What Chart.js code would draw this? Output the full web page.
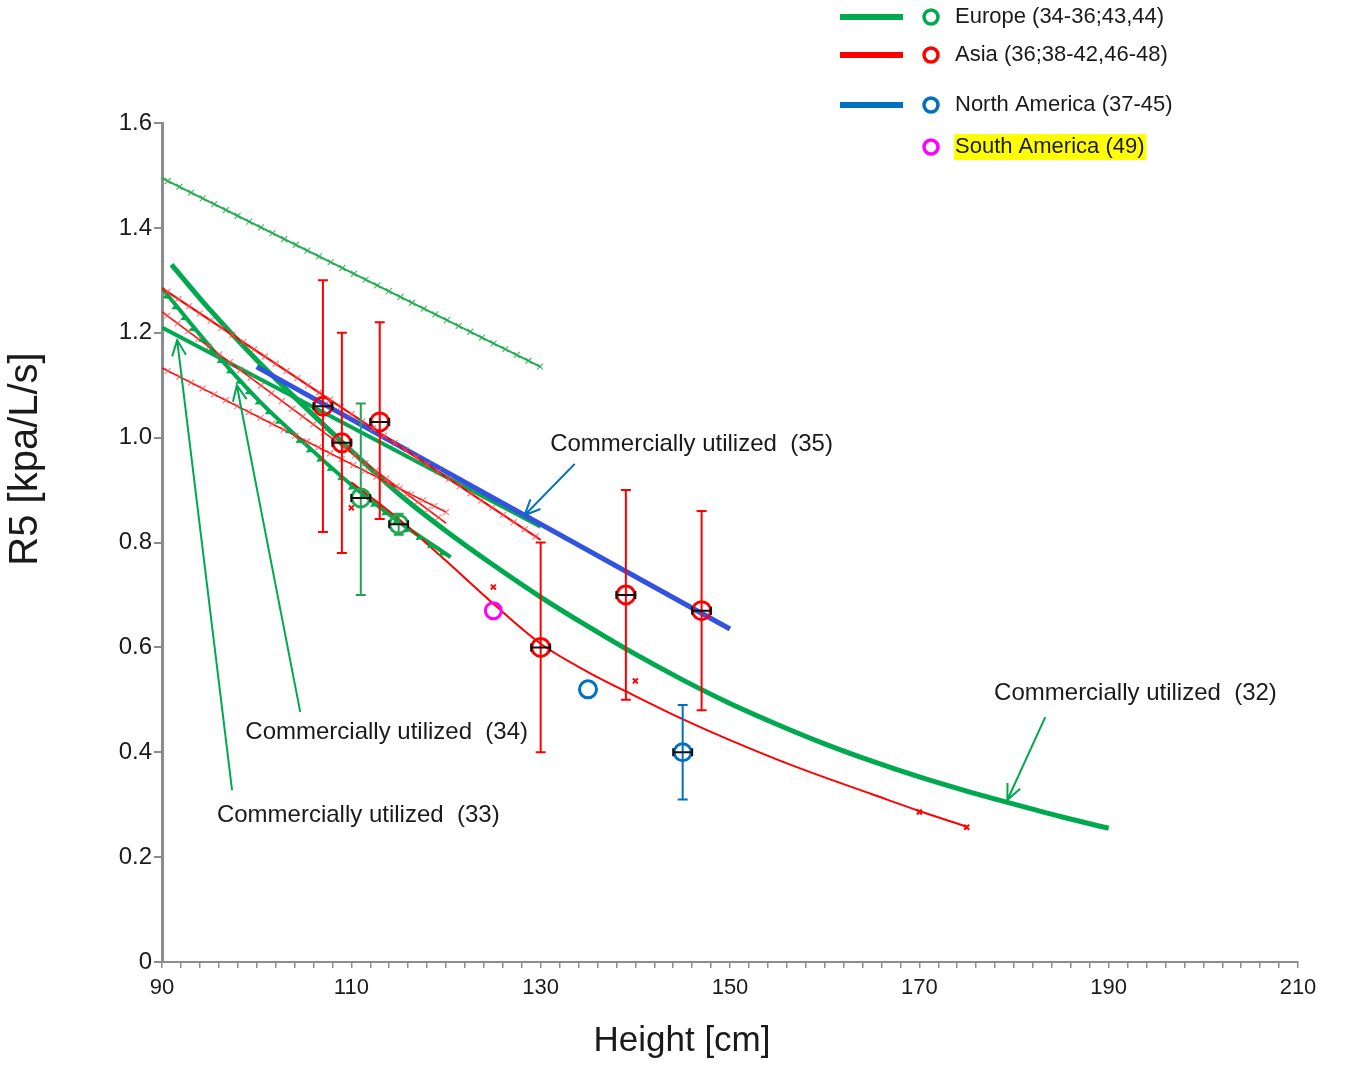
<!DOCTYPE html>
<html>
<head>
<meta charset="utf-8">
<script src="https://cdn.jsdelivr.net/npm/chart.js@4.4.0/dist/chart.umd.min.js"></script>
<style>
  html, body { margin: 0; padding: 0; background: #fff; }
</style>
</head>
<body>
<canvas id="myChart" width="1346" height="1066"></canvas>
<script>
// ---- reference lines (height cm -> R5 kPa/L/s) ----
const topGreenX = [90, 130];
const topGreenY = [1.495, 1.135];

const curve32X = [91, 95, 100, 105, 110, 115, 120, 125, 130, 135, 140, 145, 150, 155, 160, 165, 170, 175, 180, 185, 190];
const curve32Y = [1.33, 1.245, 1.148, 1.06, 0.975, 0.893, 0.822, 0.757, 0.696, 0.64, 0.587, 0.538, 0.493, 0.453, 0.416, 0.383, 0.353, 0.326, 0.301, 0.277, 0.255];

const line33X = [90, 130];
const line33Y = [1.21, 0.83];

const curve34X = [90, 95, 100, 105, 110, 115, 120.5];
const curve34Y = [1.285, 1.175, 1.075, 0.99, 0.91, 0.84, 0.772];

const naLineX = [100, 150];
const naLineY = [1.135, 0.635];

const asiaLineAX = [90, 130];
const asiaLineAY = [1.285, 0.805];
const asiaLineBX = [90, 120];
const asiaLineBY = [1.24, 0.837];
const asiaLineCX = [90, 120];
const asiaLineCY = [1.133, 0.858];

const asiaCurveX = [110, 115, 120, 125, 130, 135, 140, 145, 150, 155, 160, 165, 170, 175];
const asiaCurveY = [0.915, 0.845, 0.765, 0.683, 0.607, 0.553, 0.507, 0.463, 0.423, 0.386, 0.352, 0.32, 0.288, 0.258];

// ---- study means with error bars ----
const asiaPtX = [107, 109, 113, 130, 139, 147];
const asiaPtY = [1.06, 0.99, 1.03, 0.60, 0.70, 0.67];
const asiaLo  = [0.82, 0.78, 0.845, 0.40, 0.50, 0.48];
const asiaHi  = [1.30, 1.20, 1.22, 0.80, 0.90, 0.86];

const euPtX = [111, 115];
const euPtY = [0.885, 0.835];
const euLo  = [0.70, 0.815];
const euHi  = [1.065, 0.855];

const naPtX = [135, 145];
const naPtY = [0.52, 0.40];
const naLo  = [null, 0.31];
const naHi  = [null, 0.49];

const saPtX = [125];
const saPtY = [0.67];

const asiaCrossX = [110, 125, 140, 170, 175];
const asiaCrossY = [0.866, 0.715, 0.536, 0.286, 0.257];

const heightErr = 1; // +/- cm, black horizontal bars

// ---- annotations ----
const noteText  = ['Commercially utilized  (35)', 'Commercially utilized  (34)', 'Commercially utilized  (33)', 'Commercially utilized  (32)'];
const noteX     = [131, 98.8, 95.8, 177.9];
const noteY     = [0.988, 0.437, 0.280, 0.513];
const arrowFromX = [133.6, 104.6, 97.4, 183.3];
const arrowFromY = [0.950, 0.477, 0.328, 0.467];
const arrowToX   = [128.3, 97.9, 91.6, 179.3];
const arrowToY   = [0.852, 1.100, 1.186, 0.309];

const legendLabels = ['Europe (34-36;43,44)', 'Asia (36;38-42,46-48)', 'North America (37-45)', 'South America (49)'];

const RED = '#ff0000';
const GREEN = '#00a94f';
const GREEN_THIN = '#22ad55';
const BLUE_LINE = '#3352e0';
const BLUE = '#0070c0';
const MAGENTA = '#ff00ff';
const AXIS = '#8c8c8c';
const TEXT = '#1a1a1a';
const FONT = 'Arial, "Liberation Sans", sans-serif';

const arrowColors = [BLUE, GREEN, GREEN, GREEN];
const legendLine = [GREEN, RED, BLUE, null];
const legendDot = [GREEN, RED, BLUE, MAGENTA];

function pts(xs, ys) {
    return xs.map((x, i) => ({ x: x, y: ys[i] }));
}

function ring(xs, ys, color, r) {
    return {
        data: pts(xs, ys), showLine: false, pointStyle: 'circle',
        pointRadius: r, pointBorderWidth: 3, borderColor: color,
        pointBorderColor: color, pointBackgroundColor: 'rgba(0,0,0,0)'
    };
}

function line(xs, ys, color, width, extra) {
    return Object.assign({
        type: 'line',
        data: pts(xs, ys), pointRadius: 0, fill: false,
        borderColor: color, borderWidth: width, backgroundColor: color
    }, extra || {});
}

const smooth = { cubicInterpolationMode: 'monotone', tension: 0.4 };

const errorBars = [
    { x: asiaPtX, y: asiaPtY, lo: asiaLo, hi: asiaHi, color: RED },
    { x: euPtX, y: euPtY, lo: euLo, hi: euHi, color: '#22a455' },
    { x: naPtX, y: naPtY, lo: naLo, hi: naHi, color: BLUE }
];

const extrasPlugin = {
    id: 'extras',
    afterDatasetsDraw(chart) {
        const ctx = chart.ctx;
        const xs = chart.scales.x, ys = chart.scales.y;
        ctx.save();
        // little markers along some lines
        chart.data.datasets.forEach((ds, i) => {
            if (!ds.marks) return;
            const p = chart.getDatasetMeta(i).data.map(e => [e.x, e.y]);
            const step = ds.markStep || 13;
            let carry = step / 2;
            for (let k = 0; k < p.length - 1; k++) {
                const dx = p[k + 1][0] - p[k][0], dy = p[k + 1][1] - p[k][1];
                const len = Math.hypot(dx, dy);
                const ux = dx / len, uy = dy / len;
                let d = carry;
                while (d < len) {
                    const mx = p[k][0] + ux * d, my = p[k][1] + uy * d;
                    if (ds.marks === 'x') {
                        ctx.strokeStyle = ds.markColor;
                        ctx.lineWidth = 1.2;
                        ctx.beginPath();
                        ctx.moveTo(mx - 3, my - 3); ctx.lineTo(mx + 3, my + 3);
                        ctx.moveTo(mx - 3, my + 3); ctx.lineTo(mx + 3, my - 3);
                        ctx.stroke();
                    } else {
                        ctx.fillStyle = ds.borderColor;
                        ctx.beginPath();
                        ctx.moveTo(mx, my);
                        ctx.lineTo(mx + ux * 7, my + uy * 7);
                        ctx.lineTo(mx - uy * 6 + ux * 1, my + ux * 6 + uy * 1);
                        ctx.closePath();
                        ctx.fill();
                    }
                    d += step;
                }
                carry = d - len;
            }
        });
        // vertical error bars
        errorBars.forEach(g => {
            ctx.strokeStyle = g.color;
            ctx.lineWidth = 2;
            g.x.forEach((x, i) => {
                if (g.lo[i] == null) return;
                const px = xs.getPixelForValue(x);
                const pl = ys.getPixelForValue(g.lo[i]), ph = ys.getPixelForValue(g.hi[i]);
                ctx.beginPath();
                ctx.moveTo(px, pl); ctx.lineTo(px, ph);
                ctx.moveTo(px - 5, pl); ctx.lineTo(px + 5, pl);
                ctx.moveTo(px - 5, ph); ctx.lineTo(px + 5, ph);
                ctx.stroke();
            });
        });
        // horizontal black bars
        ctx.strokeStyle = '#111';
        ctx.lineWidth = 2;
        errorBars.forEach(g => {
            g.x.forEach((x, i) => {
                if (g.lo[i] == null) return;
                const py = ys.getPixelForValue(g.y[i]);
                const a = xs.getPixelForValue(x - heightErr), b = xs.getPixelForValue(x + heightErr);
                ctx.beginPath();
                ctx.moveTo(a, py); ctx.lineTo(b, py);
                ctx.moveTo(a, py - 4); ctx.lineTo(a, py + 4);
                ctx.moveTo(b, py - 4); ctx.lineTo(b, py + 4);
                ctx.stroke();
            });
        });
        ctx.restore();
    },
    afterDraw(chart) {
        const ctx = chart.ctx;
        const xs = chart.scales.x, ys = chart.scales.y;
        ctx.save();
        // axis titles
        ctx.fillStyle = TEXT;
        ctx.textAlign = 'center';
        ctx.textBaseline = 'middle';
        ctx.font = '35px ' + FONT;
        ctx.fillText('Height [cm]', 682, 1041);
        ctx.save();
        ctx.translate(26, 459);
        ctx.rotate(-Math.PI / 2);
        ctx.font = '40px ' + FONT;
        ctx.fillText('R5 [kpa/L/s]', 0, 0);
        ctx.restore();
        // annotations with arrows
        ctx.font = '24px ' + FONT;
        ctx.textBaseline = 'middle';
        ctx.textAlign = 'left';
        noteText.forEach((t, i) => {
            ctx.fillStyle = TEXT;
            ctx.fillText(t, xs.getPixelForValue(noteX[i]), ys.getPixelForValue(noteY[i]));
            const x1 = xs.getPixelForValue(arrowFromX[i]), y1 = ys.getPixelForValue(arrowFromY[i]);
            const x2 = xs.getPixelForValue(arrowToX[i]), y2 = ys.getPixelForValue(arrowToY[i]);
            const ang = Math.atan2(y2 - y1, x2 - x1);
            ctx.strokeStyle = arrowColors[i];
            ctx.lineWidth = 2;
            ctx.beginPath();
            ctx.moveTo(x1, y1); ctx.lineTo(x2, y2);
            ctx.moveTo(x2 - 17 * Math.cos(ang - 0.42), y2 - 17 * Math.sin(ang - 0.42));
            ctx.lineTo(x2, y2);
            ctx.lineTo(x2 - 17 * Math.cos(ang + 0.42), y2 - 17 * Math.sin(ang + 0.42));
            ctx.stroke();
        });
        // legend
        const rowY = [17, 55, 105, 147];
        ctx.font = '22px ' + FONT;
        legendLabels.forEach((lab, i) => {
            const y = rowY[i];
            if (legendLine[i]) {
                ctx.strokeStyle = legendLine[i];
                ctx.lineWidth = 6;
                ctx.beginPath();
                ctx.moveTo(840, y); ctx.lineTo(903, y);
                ctx.stroke();
            }
            ctx.strokeStyle = legendDot[i];
            ctx.lineWidth = 3.5;
            ctx.beginPath();
            ctx.arc(931, y, 7, 0, Math.PI * 2);
            ctx.stroke();
            if (i === 3) {
                const w = ctx.measureText(lab).width;
                ctx.fillStyle = '#ffff00';
                ctx.fillRect(954, y - 13, w + 3, 26);
            }
            ctx.fillStyle = TEXT;
            ctx.fillText(lab, 955, y);
        });
        ctx.restore();
    }
};

new Chart(document.getElementById('myChart'), {
    type: 'scatter',
    data: {
        datasets: [
            ring(asiaPtX, asiaPtY, RED, 9),
            ring(euPtX, euPtY, '#1faa55', 9),
            ring(naPtX, naPtY, BLUE, 8.5),
            ring(saPtX, saPtY, MAGENTA, 8),
            {
                data: pts(asiaCrossX, asiaCrossY), showLine: false, pointStyle: 'crossRot',
                pointRadius: 3.5, pointBorderWidth: 2, borderColor: RED, pointBorderColor: RED
            },
            line(asiaLineAX, asiaLineAY, RED, 2, { marks: 'x', markColor: 'rgba(255,80,80,0.75)' }),
            line(asiaLineBX, asiaLineBY, RED, 1.5, { marks: 'x', markColor: 'rgba(255,80,80,0.75)' }),
            line(asiaLineCX, asiaLineCY, RED, 1.5, { marks: 'x', markColor: 'rgba(255,80,80,0.75)' }),
            line(asiaCurveX, asiaCurveY, RED, 2, smooth),
            line(naLineX, naLineY, BLUE_LINE, 5),
            line(curve32X, curve32Y, GREEN, 5, smooth),
            line(line33X, line33Y, GREEN, 4),
            line(curve34X, curve34Y, GREEN, 4, Object.assign({ marks: 'tri', markStep: 14 }, smooth)),
            line(topGreenX, topGreenY, GREEN_THIN, 2, { marks: 'x', markColor: 'rgba(40,170,80,0.8)' })
        ]
    },
    options: {
        responsive: false,
        animation: false,
        layout: { padding: { left: 0, right: 48, top: 123, bottom: 0 } },
        plugins: { legend: { display: false }, tooltip: { enabled: false } },
        scales: {
            x: {
                type: 'linear', min: 90, max: 210,
                afterFit: function(s) { s.height = 104; },
                border: { color: AXIS, width: 2 },
                grid: { drawOnChartArea: false, drawTicks: true, tickLength: 6, color: AXIS, lineWidth: 1.5 },
                ticks: {
                    stepSize: 2, autoSkip: false, maxRotation: 0, minRotation: 0, padding: 7,
                    color: TEXT, font: { family: FONT, size: 22 },
                    callback: function(v) { return (v - 90) % 20 === 0 ? String(v) : ''; }
                }
            },
            y: {
                type: 'linear', min: 0, max: 1.6,
                afterFit: function(s) { s.width = 162; },
                border: { color: AXIS, width: 3 },
                grid: { drawOnChartArea: false, drawTicks: true, tickLength: 8, color: AXIS, lineWidth: 2 },
                ticks: {
                    stepSize: 0.2, padding: 2, color: TEXT, font: { family: FONT, size: 24 },
                    callback: function(v) { return v === 0 ? '0' : v.toFixed(1); }
                }
            }
        }
    },
    plugins: [extrasPlugin]
});
</script>
</body>
</html>
